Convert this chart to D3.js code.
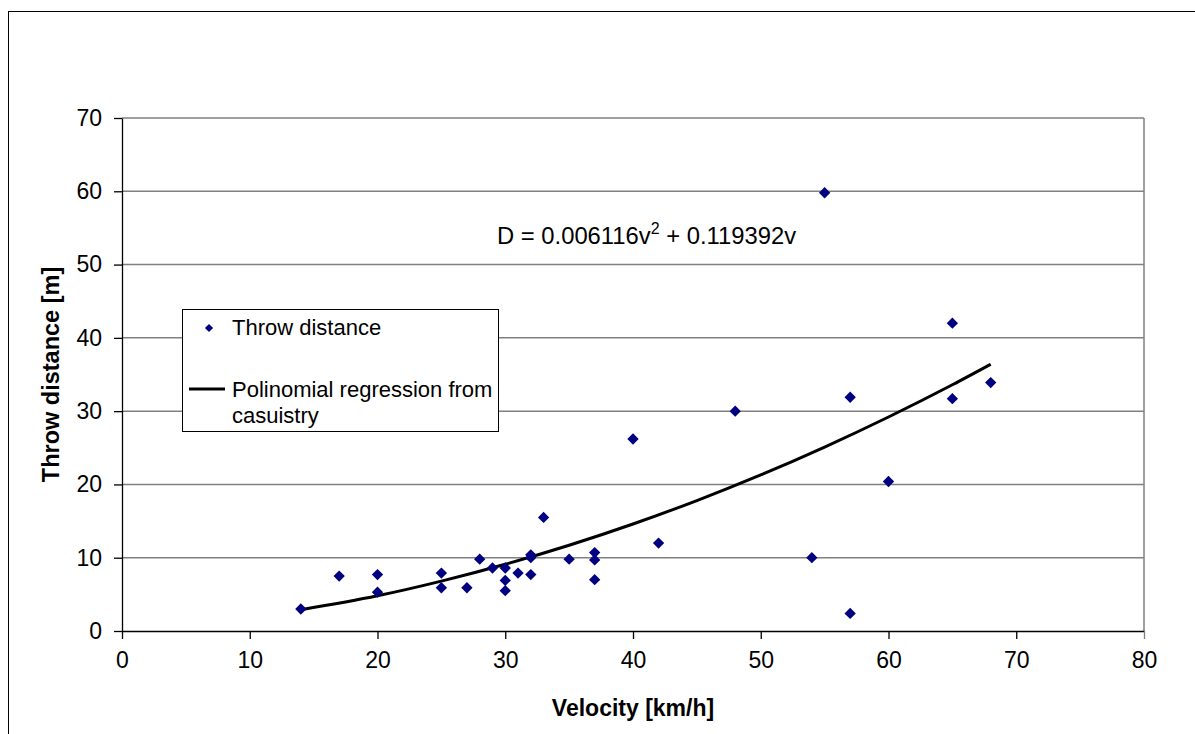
<!DOCTYPE html>
<html>
<head>
<meta charset="utf-8">
<script src="https://cdn.jsdelivr.net/npm/d3@7"></script>
<style>
  html, body { margin: 0; padding: 0; background: #fff; }
  svg { display: block; font-family: "Liberation Sans", Arial, sans-serif; }
</style>
</head>
<body>
<svg id="chart" width="1195" height="734"></svg>
<script>
// Throw distance vs. velocity, with polynomial regression
const velocity = [14, 17, 20, 20, 25, 25, 27, 28, 29, 30, 30, 30, 31, 32, 32, 32,
  33, 35, 37, 37, 37, 40, 42, 48, 54, 55, 57, 57, 60, 65, 65, 68];
const distance = [3.0, 7.5, 7.7, 5.3, 7.9, 5.9, 5.9, 9.8, 8.6, 8.6, 6.9, 5.5, 7.9, 10.4, 10.0, 7.7,
  15.5, 9.8, 10.7, 9.7, 7.0, 26.2, 12.0, 30.0, 10.0, 59.8, 31.9, 2.4, 20.4, 31.7, 42.0, 33.9];

// regression curve
const fitVelocity = [14, 20, 25, 30, 35, 40, 45, 50, 55, 60, 65, 68];
const fitDistance = [2.9, 4.8, 6.8, 9.1, 11.7, 14.6, 17.8, 21.3, 25.1, 29.2, 33.6, 36.4];

const xTicks = [0, 10, 20, 30, 40, 50, 60, 70, 80];
const yTicks = [0, 10, 20, 30, 40, 50, 60, 70];

const svg = d3.select("#chart");

// outer chart border (runs off the right/bottom edge)
svg.append("rect")
  .attr("x", 8.5).attr("y", 11.5)
  .attr("width", 1200).attr("height", 740)
  .attr("fill", "#fff").attr("stroke", "#000").attr("stroke-width", 1);

const x = d3.scaleLinear().domain([0, 80]).range([122, 1144]);
const y = d3.scaleLinear().domain([0, 70]).range([631, 118]);

// gridlines
svg.append("g")
  .selectAll("line")
  .data(yTicks.filter((d) => d > 0))
  .join("line")
  .attr("x1", x(0)).attr("x2", x(80))
  .attr("y1", (d) => y(d)).attr("y2", (d) => y(d))
  .attr("stroke", "#808080").attr("stroke-width", 1.5);

// right plot border
svg.append("line")
  .attr("x1", x(80)).attr("x2", x(80))
  .attr("y1", y(70)).attr("y2", y(0))
  .attr("stroke", "#808080").attr("stroke-width", 1.5);

// axes
const xAxis = svg.append("g")
  .attr("transform", `translate(0,${y(0)})`)
  .call(d3.axisBottom(x).tickValues(xTicks).tickSize(8).tickPadding(13).tickSizeOuter(0));
const yAxis = svg.append("g")
  .attr("transform", `translate(${x(0)},0)`)
  .call(d3.axisLeft(y).tickValues(yTicks).tickSize(8).tickPadding(12).tickSizeOuter(0));

[xAxis, yAxis].forEach((a) => {
  a.select(".domain").attr("stroke", "#000").attr("stroke-width", 1.3);
  a.selectAll(".tick line").attr("stroke", "#000").attr("stroke-width", 1.3);
  a.selectAll(".tick text")
    .attr("fill", "#000")
    .attr("font-size", 23)
    .attr("font-family", "Liberation Sans, Arial, sans-serif");
});
xAxis.select(".tick:last-of-type line").attr("stroke", "#808080");

// regression line
const line = d3.line()
  .x((d, i) => x(fitVelocity[i]))
  .y((d) => y(d))
  .curve(d3.curveMonotoneX);
svg.append("path")
  .datum(fitDistance)
  .attr("d", line)
  .attr("fill", "none")
  .attr("stroke", "#000")
  .attr("stroke-width", 3);

// points
const diamond = d3.symbol().type(d3.symbolSquare).size(64);
svg.append("g")
  .selectAll("path")
  .data(velocity.map((v, i) => [v, distance[i]]))
  .join("path")
  .attr("d", diamond)
  .attr("transform", (d) => `translate(${x(d[0])},${y(d[1])}) rotate(45)`)
  .attr("fill", "#000080");

// equation
const eq = svg.append("text")
  .attr("x", 497).attr("y", 244)
  .attr("font-size", 23.8)
  .attr("fill", "#000");
eq.append("tspan").text("D = 0.006116v");
eq.append("tspan").attr("dy", -10).attr("font-size", 16).text("2");
eq.append("tspan").attr("dy", 10).text(" + 0.119392v");

// legend
const leg = svg.append("g");
leg.append("rect")
  .attr("x", 182.5).attr("y", 309.5)
  .attr("width", 316).attr("height", 122)
  .attr("fill", "#fff").attr("stroke", "#000").attr("stroke-width", 1);
leg.append("path")
  .attr("d", d3.symbol().type(d3.symbolSquare).size(34))
  .attr("transform", "translate(209,328) rotate(45)")
  .attr("fill", "#000080");
leg.append("text")
  .attr("x", 232).attr("y", 335)
  .attr("font-size", 22).attr("fill", "#000")
  .text("Throw distance");
leg.append("line")
  .attr("x1", 189).attr("x2", 225)
  .attr("y1", 389).attr("y2", 389)
  .attr("stroke", "#000").attr("stroke-width", 3);
leg.append("text")
  .attr("x", 232).attr("y", 397)
  .attr("font-size", 22).attr("fill", "#000")
  .text("Polinomial regression from");
leg.append("text")
  .attr("x", 232).attr("y", 423)
  .attr("font-size", 22).attr("fill", "#000")
  .text("casuistry");

// axis titles
svg.append("text")
  .attr("x", (x(0) + x(80)) / 2).attr("y", 716)
  .attr("text-anchor", "middle")
  .attr("font-size", 23).attr("font-weight", "bold").attr("fill", "#000")
  .text("Velocity [km/h]");
svg.append("text")
  .attr("transform", `translate(59,${(y(0) + y(70)) / 2}) rotate(-90)`)
  .attr("text-anchor", "middle")
  .attr("font-size", 23.5).attr("font-weight", "bold").attr("fill", "#000")
  .text("Throw distance [m]");
</script>
</body>
</html>
